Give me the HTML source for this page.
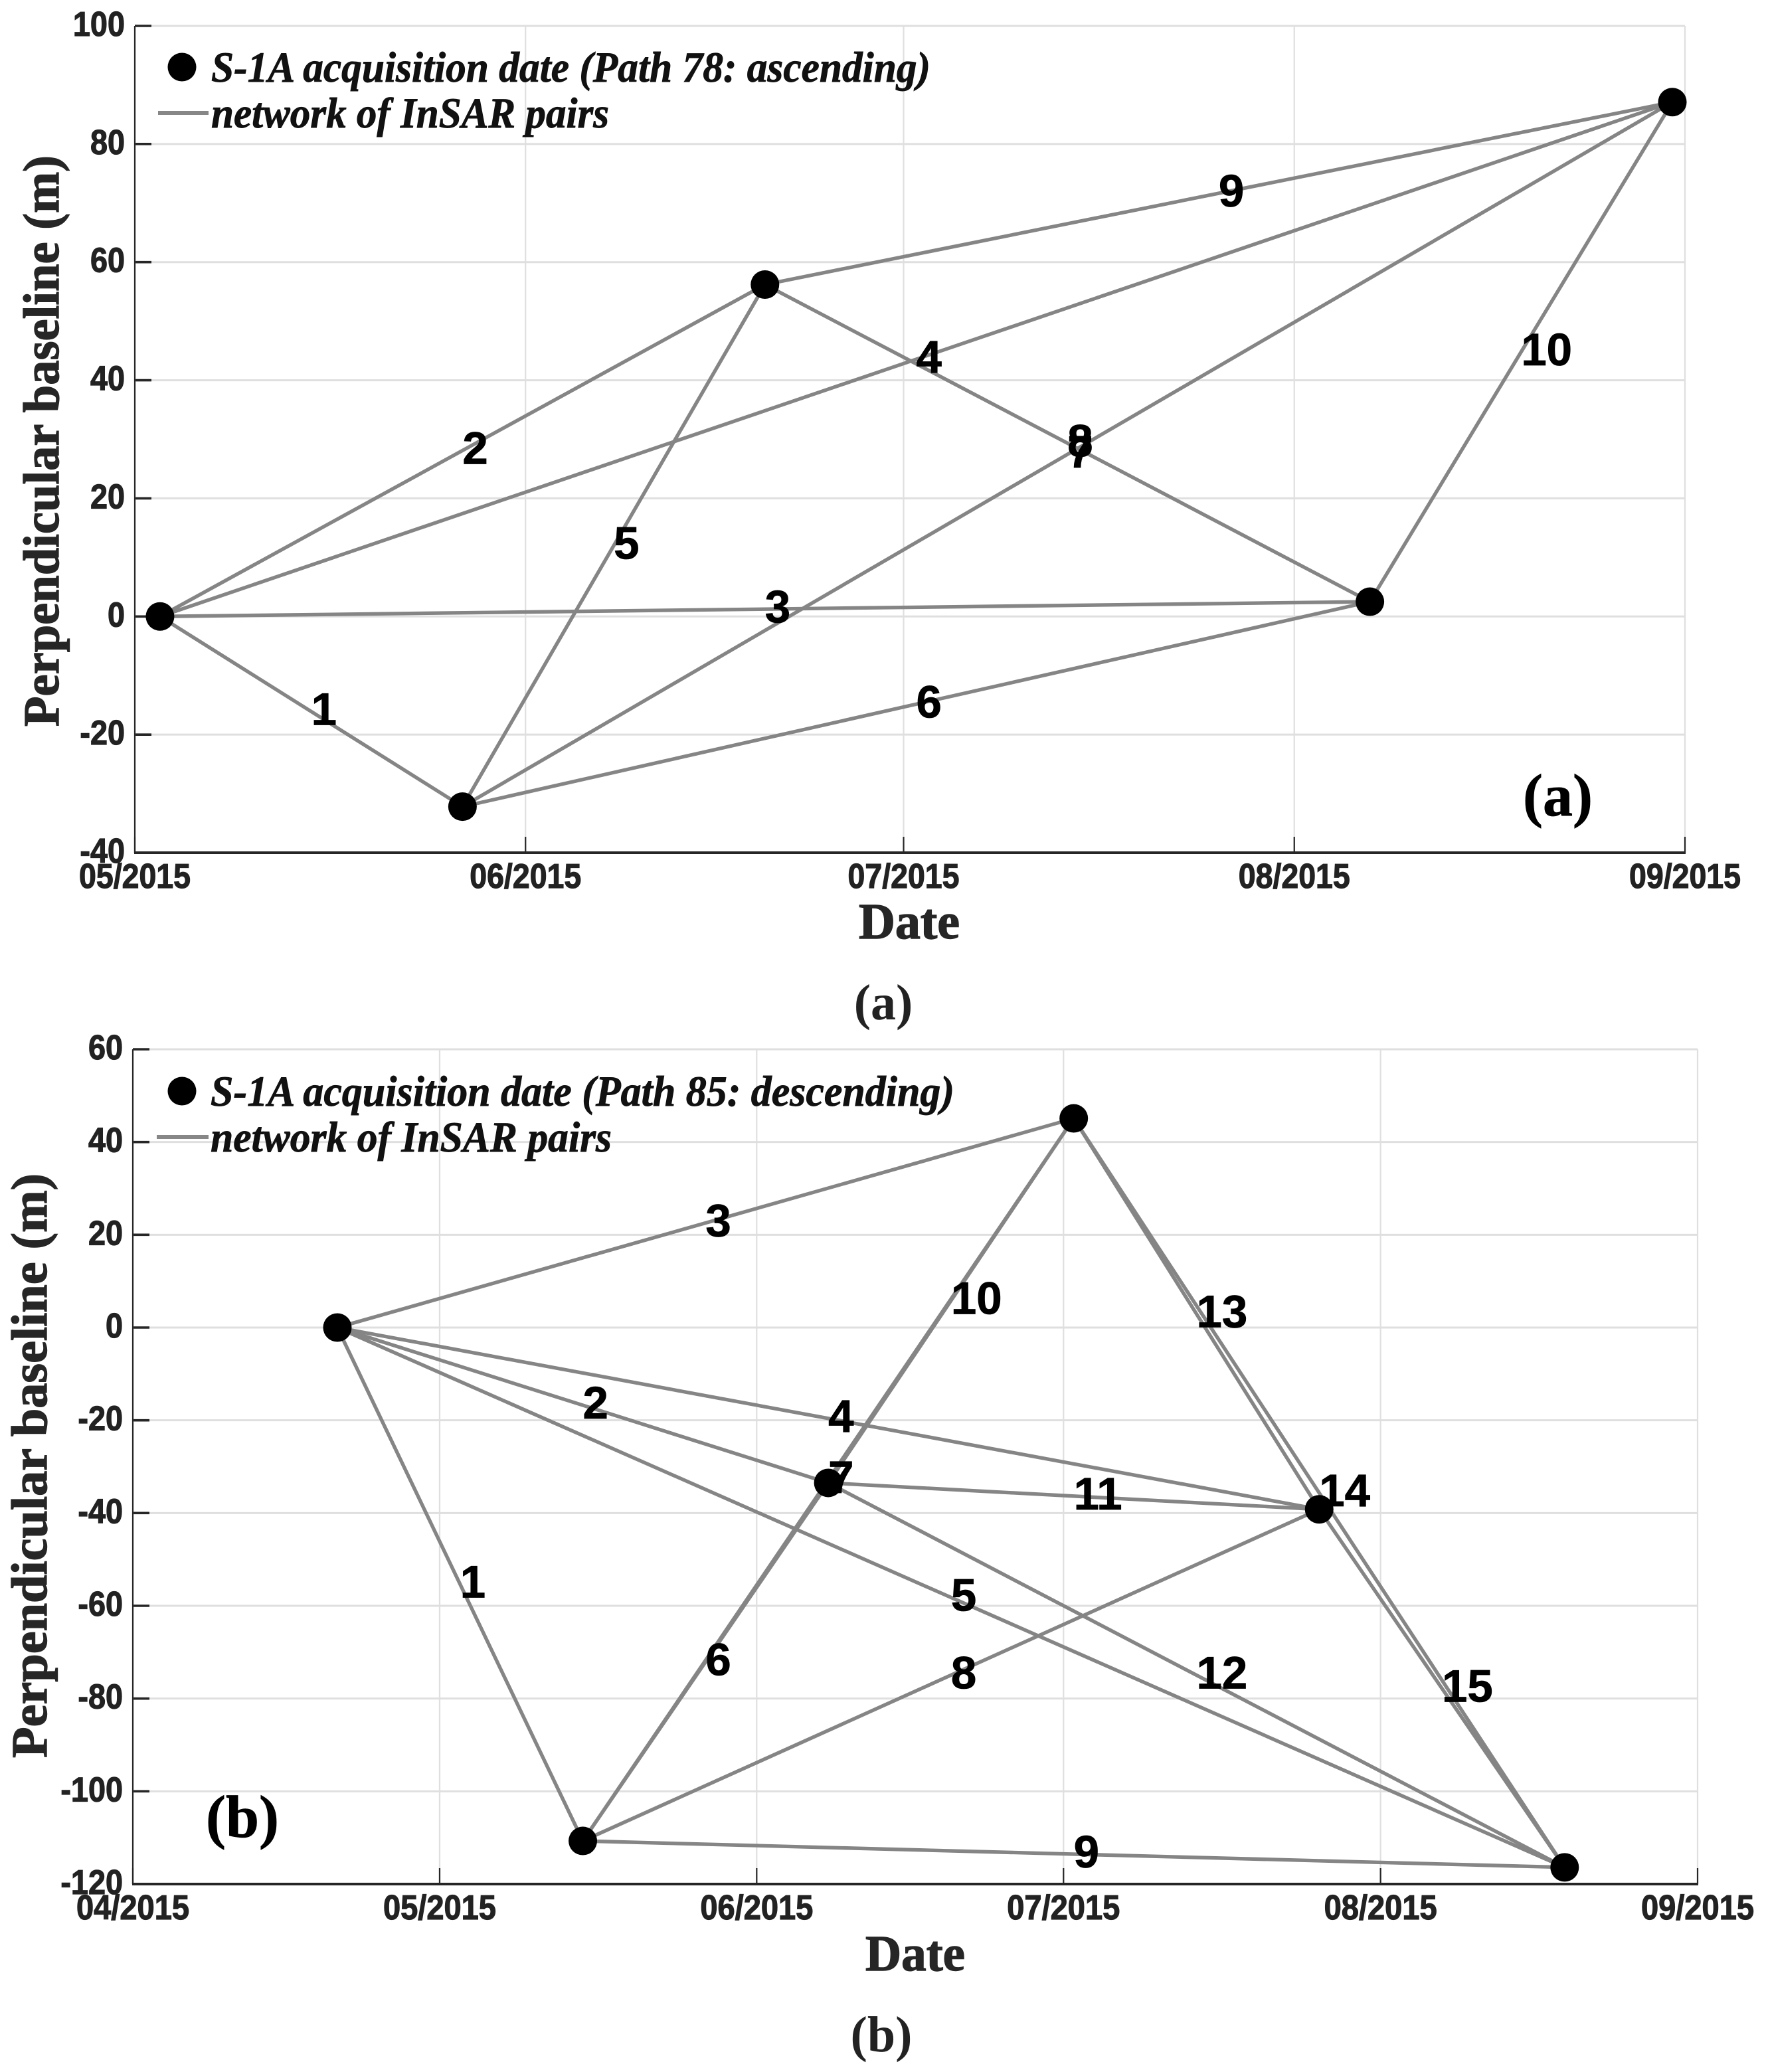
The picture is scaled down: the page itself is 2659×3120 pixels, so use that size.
<!DOCTYPE html>
<html lang="en">
<head>
<meta charset="utf-8">
<title>InSAR baseline networks</title>
<style>
html,body{margin:0;padding:0;background:#fff;width:2659px;height:3120px;overflow:hidden}
svg{display:block}
.tick{font-family:"Liberation Sans",sans-serif;font-weight:700;font-size:52px;fill:#222;stroke:#222;stroke-width:1.2px}
.edge{font-family:"Liberation Sans",sans-serif;font-weight:700;font-size:69px;fill:#000;stroke:#000;stroke-width:.8px}
.legend{font-family:"Liberation Serif",serif;font-weight:700;font-style:italic;font-size:65px;fill:#111;stroke:#111;stroke-width:.9px}
.axis{font-family:"Liberation Serif",serif;font-weight:700;font-size:76px;fill:#262626;stroke:#262626;stroke-width:1.4px}
.panel{font-family:"Liberation Serif",serif;font-weight:700;font-size:90px;fill:#000;stroke:#000;stroke-width:.8px}
.caption{font-family:"Liberation Serif",serif;font-weight:700;font-size:76px;fill:#222}
</style>
</head>
<body>
<svg id="figure" xmlns="http://www.w3.org/2000/svg" width="2659" height="3120" viewBox="0 0 2659 3120">
  <rect width="2659" height="3120" fill="#fff"/>
  <g id="chart-a"></g>
  <g id="chart-b"></g>

  <g>
    <circle cx="274" cy="101" r="21.5" fill="#000"/>
    <text class="legend" x="318" y="123" textLength="1083" lengthAdjust="spacingAndGlyphs">S-1A acquisition date (Path 78: ascending)</text>
    <rect x="238" y="167" width="76" height="6" fill="#878787"/>
    <text class="legend" x="318" y="192" textLength="599" lengthAdjust="spacingAndGlyphs">network of InSAR pairs</text>
  </g>
  <g>
    <circle cx="274" cy="1643" r="21.5" fill="#000"/>
    <text class="legend" x="317" y="1665" textLength="1120" lengthAdjust="spacingAndGlyphs">S-1A acquisition date (Path 85: descending)</text>
    <rect x="236" y="1709" width="78" height="6" fill="#878787"/>
    <text class="legend" x="317" y="1734" textLength="604" lengthAdjust="spacingAndGlyphs">network of InSAR pairs</text>
  </g>

  <text class="axis" transform="translate(88,664) rotate(-90)" text-anchor="middle" textLength="860" lengthAdjust="spacingAndGlyphs">Perpendicular baseline (m)</text>
  <text class="axis" x="1369" y="1413" text-anchor="middle" textLength="152" lengthAdjust="spacingAndGlyphs">Date</text>
  <text class="panel" x="2293" y="1228">(a)</text>
  <text class="caption" x="1330" y="1535" text-anchor="middle">(a)</text>

  <text class="axis" transform="translate(70,2207) rotate(-90)" text-anchor="middle" textLength="880" lengthAdjust="spacingAndGlyphs">Perpendicular baseline (m)</text>
  <text class="axis" x="1378" y="2967" text-anchor="middle" textLength="150" lengthAdjust="spacingAndGlyphs">Date</text>
  <text class="panel" x="310" y="2766">(b)</text>
  <text class="caption" x="1327" y="3089" text-anchor="middle">(b)</text>
</svg>

<script>
// Chart (a): Path 78, ascending
const datesA = ['2015-05-03', '2015-05-27', '2015-06-20', '2015-08-07', '2015-08-31'];
const baselinesA = [0, -32.2, 56.2, 2.5, 87.1];
const pairStartA = [0, 0, 0, 0, 1, 1, 1, 2, 2, 3];
const pairEndA = [1, 2, 3, 4, 2, 3, 4, 3, 4, 4];
const pairLabelsA = ['1', '2', '3', '4', '5', '6', '7', '8', '9', '10'];
const xTickDatesA = ['2015-05-01', '2015-06-01', '2015-07-01', '2015-08-01', '2015-09-01'];
const xTickLabelsA = ['05/2015', '06/2015', '07/2015', '08/2015', '09/2015'];
const yTicksA = [100, 80, 60, 40, 20, 0, -20, -40];

// Chart (b): Path 85, descending
const datesB = ['2015-04-21', '2015-05-15', '2015-06-08', '2015-07-02', '2015-07-26', '2015-08-19'];
const baselinesB = [0, -110.7, -33.5, 45.1, -39.2, -116.4];
const pairStartB = [0, 0, 0, 0, 0, 1, 1, 1, 1, 2, 2, 2, 3, 3, 4];
const pairEndB = [1, 2, 3, 4, 5, 2, 3, 4, 5, 3, 4, 5, 4, 5, 5];
const pairLabelsB = ['1', '2', '3', '4', '5', '6', '7', '8', '9', '10', '11', '12', '13', '14', '15'];
const xTickDatesB = ['2015-04-01', '2015-05-01', '2015-06-01', '2015-07-01', '2015-08-01', '2015-09-01'];
const xTickLabelsB = ['04/2015', '05/2015', '06/2015', '07/2015', '08/2015', '09/2015'];
const yTicksB = [60, 40, 20, 0, -20, -40, -60, -80, -100, -120];

const NS = 'http://www.w3.org/2000/svg';

function make(parent, tag) {
  const el = document.createElementNS(NS, tag);
  parent.appendChild(el);
  return el;
}

function setLine(el, x1, y1, x2, y2, color, width) {
  el.setAttribute('x1', x1);
  el.setAttribute('y1', y1);
  el.setAttribute('x2', x2);
  el.setAttribute('y2', y2);
  el.setAttribute('stroke', color);
  el.setAttribute('stroke-width', width);
}

function drawChart(root, c) {
  const t0 = Date.parse(c.xTickDates[0]);
  const t1 = Date.parse(c.xTickDates[c.xTickDates.length - 1]);
  const yMax = Math.max.apply(null, c.yTicks);
  const yMin = Math.min.apply(null, c.yTicks);
  const xScale = function (d) { return c.left + (Date.parse(d) - t0) / (t1 - t0) * (c.right - c.left); };
  const yScale = function (v) { return c.top + (yMax - v) / (yMax - yMin) * (c.bottom - c.top); };

  // Grid and y ticks
  c.yTicks.forEach(function (v) {
    const y = yScale(v);
    const grid = make(root, 'line');
    
    
    setLine(grid, c.left, y, c.right, y, '#dfdfdf', 3);
    const tick = make(root, 'line');
    
    
    setLine(tick, c.left, y, c.left + 25, y, '#262626', 3.6);
    const label = make(root, 'text');
    
    
    label.setAttribute('class', 'tick');
    label.setAttribute('x', c.left - 15);
    label.setAttribute('y', y + 15);
    label.setAttribute('text-anchor', 'end');
    label.textContent = String(v);
    label.setAttribute('textLength', label.getComputedTextLength() * 0.9);
    label.setAttribute('lengthAdjust', 'spacingAndGlyphs');
  });

  // Grid and x ticks
  c.xTickDates.forEach(function (d, i) {
    const x = xScale(d);
    const grid = make(root, 'line');
    
    
    setLine(grid, x, c.top, x, c.bottom, '#dfdfdf', 2.2);
    const tick = make(root, 'line');
    
    
    setLine(tick, x, c.bottom - 24, x, c.bottom, '#262626', 2.2);
    const label = make(root, 'text');
    
    
    label.setAttribute('class', 'tick');
    label.setAttribute('x', x);
    label.setAttribute('y', c.bottom + 53);
    label.setAttribute('text-anchor', 'middle');
    label.textContent = c.xTickLabels[i];
    label.setAttribute('textLength', c.xLabelWidth);
    label.setAttribute('lengthAdjust', 'spacingAndGlyphs');
  });

  // Axis lines
  const yAxis = make(root, 'line');
  
  
  setLine(yAxis, c.left, c.top, c.left, c.bottom, '#262626', 2.2);
  const xAxis = make(root, 'line');
  
  
  setLine(xAxis, c.left - 1, c.bottom, c.right + 1, c.bottom, '#262626', 4);

  // InSAR pair lines
  c.pairStart.forEach(function (a, i) {
    const b = c.pairEnd[i];
    const line = make(root, 'line');
    
    
    setLine(line, xScale(c.dates[a]), yScale(c.values[a]), xScale(c.dates[b]), yScale(c.values[b]), '#858585', 5.4);
  });

  // Acquisition markers
  c.dates.forEach(function (d, i) {
    const dot = make(root, 'circle');
    
    
    dot.setAttribute('cx', xScale(d));
    dot.setAttribute('cy', yScale(c.values[i]));
    dot.setAttribute('r', 21.5);
    dot.setAttribute('fill', '#000');
  });

  // Pair number labels, anchored at each pair's midpoint
  c.pairStart.forEach(function (a, i) {
    const b = c.pairEnd[i];
    const label = make(root, 'text');
    
    
    label.setAttribute('class', 'edge');
    label.setAttribute('x', (xScale(c.dates[a]) + xScale(c.dates[b])) / 2);
    label.setAttribute('y', (yScale(c.values[a]) + yScale(c.values[b])) / 2 + 20);
    label.textContent = c.pairLabels[i];
  });
}

drawChart(document.getElementById('chart-a'), {
  left: 203, right: 2537, top: 39, bottom: 1284, xLabelWidth: 168,
  dates: datesA, values: baselinesA, pairStart: pairStartA, pairEnd: pairEndA, pairLabels: pairLabelsA,
  xTickDates: xTickDatesA, xTickLabels: xTickLabelsA, yTicks: yTicksA
});

drawChart(document.getElementById('chart-b'), {
  left: 200, right: 2556, top: 1580, bottom: 2837, xLabelWidth: 170,
  dates: datesB, values: baselinesB, pairStart: pairStartB, pairEnd: pairEndB, pairLabels: pairLabelsB,
  xTickDates: xTickDatesB, xTickLabels: xTickLabelsB, yTicks: yTicksB
});
</script>
</body>
</html>
